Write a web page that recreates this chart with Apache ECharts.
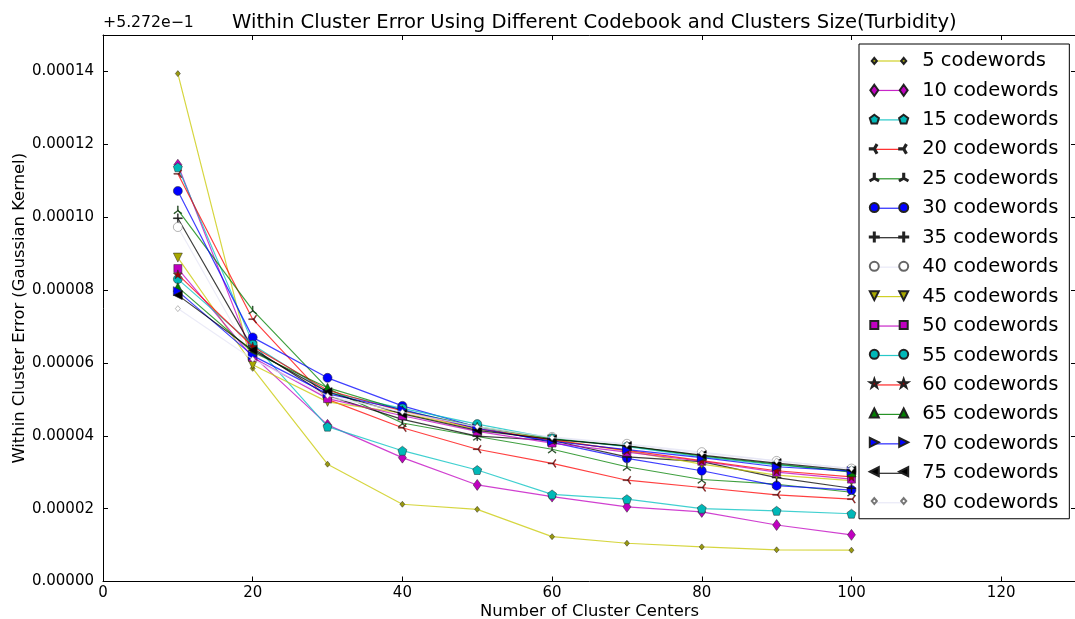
<!DOCTYPE html>
<html><head><meta charset="utf-8">
<script src="https://cdn.jsdelivr.net/npm/echarts@6/dist/echarts.min.js"></script>
<style>html,body{margin:0;padding:0;background:#fff}#c{width:1075px;height:619px}</style>
</head><body><div id="c"></div>
<script>
const clusterCenters = [10, 20, 30, 40, 50, 60, 70, 80, 90, 100];
const cw5  = [13.94e-5, 5.85e-5, 3.22e-5, 2.12e-5, 1.98e-5, 1.23e-5, 1.05e-5, 0.95e-5, 0.87e-5, 0.86e-5];
const cw10 = [11.44e-5, 6.20e-5, 4.30e-5, 3.40e-5, 2.65e-5, 2.33e-5, 2.05e-5, 1.91e-5, 1.55e-5, 1.28e-5];
const cw15 = [11.37e-5, 6.55e-5, 4.25e-5, 3.59e-5, 3.06e-5, 2.39e-5, 2.26e-5, 2.00e-5, 1.94e-5, 1.86e-5];
const cw20 = [11.19e-5, 7.20e-5, 5.00e-5, 4.22e-5, 3.63e-5, 3.24e-5, 2.78e-5, 2.58e-5, 2.38e-5, 2.26e-5];
const cw25 = [10.20e-5, 7.45e-5, 5.30e-5, 4.35e-5, 3.98e-5, 3.63e-5, 3.15e-5, 2.80e-5, 2.67e-5, 2.45e-5];
const cw30 = [10.72e-5, 6.70e-5, 5.59e-5, 4.82e-5, 4.24e-5, 3.82e-5, 3.38e-5, 3.04e-5, 2.63e-5, 2.51e-5];
const cw35 = [9.97e-5, 6.40e-5, 5.10e-5, 4.45e-5, 3.99e-5, 3.87e-5, 3.42e-5, 3.29e-5, 2.85e-5, 2.56e-5];
const cw40 = [9.73e-5, 6.10e-5, 5.05e-5, 4.70e-5, 4.22e-5, 3.97e-5, 3.78e-5, 3.55e-5, 3.31e-5, 3.10e-5];
const cw45 = [8.89e-5, 5.95e-5, 4.93e-5, 4.62e-5, 4.18e-5, 3.90e-5, 3.58e-5, 3.22e-5, 2.92e-5, 2.77e-5];
const cw50 = [8.59e-5, 6.15e-5, 5.02e-5, 4.55e-5, 4.12e-5, 3.80e-5, 3.55e-5, 3.30e-5, 3.00e-5, 2.81e-5];
const cw55 = [8.30e-5, 6.50e-5, 5.20e-5, 4.75e-5, 4.32e-5, 3.93e-5, 3.70e-5, 3.42e-5, 3.20e-5, 3.03e-5];
const cw60 = [8.43e-5, 6.45e-5, 5.25e-5, 4.68e-5, 4.20e-5, 3.88e-5, 3.60e-5, 3.32e-5, 3.04e-5, 2.87e-5];
const cw65 = [8.08e-5, 6.30e-5, 5.32e-5, 4.70e-5, 4.25e-5, 3.92e-5, 3.72e-5, 3.45e-5, 3.22e-5, 3.00e-5];
const cw70 = [7.97e-5, 6.20e-5, 5.15e-5, 4.72e-5, 4.20e-5, 3.85e-5, 3.62e-5, 3.40e-5, 3.15e-5, 3.03e-5];
const cw75 = [7.86e-5, 6.35e-5, 5.20e-5, 4.60e-5, 4.15e-5, 3.90e-5, 3.72e-5, 3.47e-5, 3.25e-5, 3.05e-5];
const cw80 = [7.49e-5, 6.10e-5, 5.10e-5, 4.65e-5, 4.25e-5, 3.95e-5, 3.76e-5, 3.52e-5, 3.31e-5, 3.10e-5];
const seriesNames = ['5 codewords','10 codewords','15 codewords','20 codewords','25 codewords','30 codewords','35 codewords','40 codewords','45 codewords','50 codewords','55 codewords','60 codewords','65 codewords','70 codewords','75 codewords','80 codewords'];
const seriesValues = [cw5, cw10, cw15, cw20, cw25, cw30, cw35, cw40, cw45, cw50, cw55, cw60, cw65, cw70, cw75, cw80];
const xTicks = [0, 20, 40, 60, 80, 100, 120];
const yTicks = [0, 0.00002, 0.00004, 0.00006, 0.00008, 0.0001, 0.00012, 0.00014];
const offsetText = '+5.272e\u22121';

const PENT = 'path://M0,-1 L0.951,-0.309 L0.588,0.809 L-0.588,0.809 L-0.951,-0.309 Z';
const STAR = 'path://M0,-1 L0.225,-0.309 L0.951,-0.309 L0.363,0.118 L0.588,0.809 L0,0.382 L-0.588,0.809 L-0.363,0.118 L-0.951,-0.309 L-0.225,-0.309 Z';
const PLUS = 'path://M-1,-0.09 L1,-0.09 L1,0.09 L-1,0.09 Z M-0.09,-1 L0.09,-1 L0.09,1 L-0.09,1 Z';
const TRI_L = 'path://M0,-0.09 L-1,-0.09 L-1,0.09 L0,0.09 Z M0.08,0.05 L0.58,-0.82 L0.42,-0.91 L-0.08,-0.05 Z M-0.08,0.05 L0.42,0.91 L0.58,0.82 L0.08,-0.05 Z';
const TRI_U = 'path://M-0.09,0 L-0.09,-1 L0.09,-1 L0.09,0 Z M-0.05,0.08 L-0.82,0.58 L-0.91,0.42 L-0.05,-0.08 Z M0.05,0.08 L0.82,0.58 L0.91,0.42 L0.05,-0.08 Z';
const styles = [
  {line:'#c8c800', fill:'#9a9a10', sym:'diamond', size:[5,6], rot:0, lg:'dsmall'},
  {line:'#c000c0', fill:'#c000c0', sym:'diamond', size:[8,11], rot:0, lg:'dthin'},
  {line:'#00c0c0', fill:'#00b8b8', sym:PENT, size:9, rot:0, lg:'pent'},
  {line:'#ff0000', fill:'#ff0000', sym:TRI_L, size:8, rot:0, lg:'trileft'},
  {line:'#008000', fill:'#008000', sym:TRI_U, size:8, rot:0, lg:'triup'},
  {line:'#0000ff', fill:'#0000ff', sym:'circle', size:9, rot:0, lg:'circle'},
  {line:'#000000', fill:'#000000', sym:PLUS, size:9, rot:0, lg:'plus'},
  {line:'#e4e4f4', fill:'#ffffff', sym:'circle', size:9, rot:0, edge:'#666', lg:'circle'},
  {line:'#c8c800', fill:'#a8a800', sym:'triangle', size:9, rot:180, lg:'tdown'},
  {line:'#c000c0', fill:'#c000c0', sym:'rect', size:8, rot:0, lg:'square'},
  {line:'#00c0c0', fill:'#00b8b8', sym:'circle', size:9, rot:0, lg:'circle'},
  {line:'#ff0000', fill:'#a00000', sym:STAR, size:9, rot:0, lg:'star'},
  {line:'#008000', fill:'#008000', sym:'triangle', size:9, rot:0, lg:'tup'},
  {line:'#0000ff', fill:'#0000ff', sym:'triangle', size:9, rot:-90, lg:'tright'},
  {line:'#000000', fill:'#000000', sym:'triangle', size:9, rot:90, lg:'tleft'},
  {line:'#e4e4f4', fill:'#ffffff', sym:'diamond', size:[5,6], rot:0, edge:'#777', lg:'dsmall'}
];

// ---- legend icon paths (two markers joined by a line, like matplotlib) ----
const HALF = 14.7, BW = 19.2, BH = 10;
const PAD = `M${-BW},${-BH} L${-BW},${-BH} M${BW},${BH} L${BW},${BH}`;
function f(n){return n.toFixed(2);}
function poly(pts, cx, r){return 'M' + pts.map(p => f(cx + p[0]*r) + ',' + f(p[1]*r)).join(' L') + ' Z';}
function arm(cx, x2, y2, hw){
  const len = Math.hypot(x2, y2), px = -y2/len*hw, py = x2/len*hw;
  return `M${f(cx+px)},${f(py)} L${f(cx+x2+px)},${f(y2+py)} L${f(cx+x2-px)},${f(y2-py)} L${f(cx-px)},${f(-py)} Z`;
}
function circ(cx, r){return `M${f(cx-r)},0 A${r},${r} 0 1,0 ${f(cx+r)},0 A${r},${r} 0 1,0 ${f(cx-r)},0 Z`;}
function marker(kind, cx){
  switch(kind){
    case 'dsmall': return poly([[0,-1],[0.85,0],[0,1],[-0.85,0]], cx, 3);
    case 'dthin': return poly([[0,-1],[0.72,0],[0,1],[-0.72,0]], cx, 5.5);
    case 'pent': return poly([[0,-1],[0.951,-0.309],[0.588,0.809],[-0.588,0.809],[-0.951,-0.309]], cx, 4.8);
    case 'circle': return circ(cx, 4.5);
    case 'square': return poly([[-1,-1],[1,-1],[1,1],[-1,1]], cx, 4);
    case 'tup': return poly([[0,-1],[1,1],[-1,1]], cx, 4.5);
    case 'tdown': return poly([[0,1],[-1,-1],[1,-1]], cx, 4.5);
    case 'tright': return poly([[1,0],[-1,1],[-1,-1]], cx, 4.5);
    case 'tleft': return poly([[-1,0],[1,-1],[1,1]], cx, 4.5);
    case 'star': return poly([[0,-1],[0.225,-0.309],[0.951,-0.309],[0.363,0.118],[0.588,0.809],[0,0.382],[-0.588,0.809],[-0.363,0.118],[-0.951,-0.309],[-0.225,-0.309]], cx, 4.8);
    case 'plus': return arm(cx, -4.5, 0, 0.5) + ' ' + arm(cx, 4.5, 0, 0.5) + ' ' + arm(cx, 0, -4.5, 0.5) + ' ' + arm(cx, 0, 4.5, 0.5);
    case 'trileft': return arm(cx, -4.5, 0, 0.55) + ' ' + arm(cx, 2.25, -3.9, 0.55) + ' ' + arm(cx, 2.25, 3.9, 0.55);
    case 'triup': return arm(cx, 0, -4.5, 0.55) + ' ' + arm(cx, -3.9, 2.25, 0.55) + ' ' + arm(cx, 3.9, 2.25, 0.55);
  }
}
const LINE_ICON = `path://${PAD} M${-HALF},-0.6 L${HALF},-0.6 L${HALF},0.6 L${-HALF},0.6 Z`;
const markerIcon = kind => `path://${PAD} ${marker(kind, -HALF)} ${marker(kind, HALF)}`;

const series = seriesNames.map((name, i) => {
  const s = styles[i];
  return {
    name: name,
    type: 'line',
    data: clusterCenters.map((x, j) => [x, seriesValues[i][j]]),
    symbol: s.sym,
    symbolSize: s.size,
    symbolRotate: s.rot,
    showAllSymbol: true,
    animation: false,
    lineStyle: {color: s.line, width: 1.2, opacity: 0.75},
    itemStyle: {color: s.fill, borderColor: s.edge || '#222', borderWidth: 0.5, opacity: 1},
    emphasis: {disabled: true},
    z: 2 + i * 0.01
  };
});

const font = 'DejaVu Sans';
const legendCommon = {
  orient: 'vertical', left: 859,
  itemWidth: 2 * BW, itemHeight: 2 * BH,
  selectedMode: false, symbolKeepAspect: true
};
const chart = echarts.init(document.getElementById('c'), null, {renderer: 'canvas'});
chart.setOption({
  backgroundColor: '#fff',
  animation: false,
  textStyle: {fontFamily: font, color: '#000'},
  title: {
    text: 'Within Cluster Error Using Different Codebook and Clusters Size(Turbidity)',
    left: 227, top: 8,
    textStyle: {fontFamily: font, fontSize: 19.6, fontWeight: 'normal', color: '#000'}
  },
  graphic: [{
    type: 'text', left: 103, top: 15,
    style: {text: offsetText, fontFamily: font, fontSize: 15.7, fill: '#000'}
  }],
  legend: [
    Object.assign({}, legendCommon, {
      top: 44, padding: [7, 11, 6, 9.8], itemGap: 9.45,
      backgroundColor: '#fff', borderColor: '#000', borderWidth: 1,
      textStyle: {fontFamily: font, fontSize: 19.5, color: '#000', lineHeight: 20, padding: [0, 0, 0, 10]},
      data: seriesNames.map((n, i) => ({name: n, icon: LINE_ICON,
        itemStyle: {color: styles[i].line, borderWidth: 0, opacity: 0.85}})),
      z: 10
    }),
    Object.assign({}, legendCommon, {
      top: 42.9, padding: [7, 11, 6, 9.8], itemGap: 7.35,
      backgroundColor: 'transparent', borderWidth: 0,
      formatter: () => '',
      textStyle: {fontFamily: font, fontSize: 8, lineHeight: 8},
      data: seriesNames.map((n, i) => ({name: n, icon: markerIcon(styles[i].lg)})),
      z: 11
    })
  ],
  grid: {left: 103, top: 35, width: 973, height: 546.5, containLabel: false, outerBoundsMode: 'none', show: false},
  xAxis: [{
    type: 'value', min: 0, max: 130, interval: 20,
    name: 'Number of Cluster Centers', nameLocation: 'middle', nameGap: 22, nameMoveOverlap: false,
    nameTextStyle: {fontFamily: font, fontSize: 16.4, color: '#000'},
    axisLine: {show: true, onZero: false, lineStyle: {color: '#000', width: 1}},
    axisTick: {show: true, inside: true, length: 5, lineStyle: {color: '#000'}},
    axisLabel: {fontFamily: font, fontSize: 15, color: '#000', margin: 4, showMaxLabel: false,
      formatter: v => xTicks.includes(v) ? String(v) : ''},
    splitLine: {show: false}
  }, {
    type: 'value', min: 0, max: 130, interval: 20, position: 'top',
    axisLine: {show: true, onZero: false, lineStyle: {color: '#000', width: 1}},
    axisTick: {show: true, inside: true, length: 5, lineStyle: {color: '#000'}},
    axisLabel: {show: false}, splitLine: {show: false}
  }],
  yAxis: [{
    type: 'value', min: 0, max: 0.00015, interval: 0.00002,
    name: 'Within Cluster Error (Gaussian Kernel)', nameLocation: 'middle', nameGap: 75, nameMoveOverlap: false,
    nameTextStyle: {fontFamily: font, fontSize: 16.4, color: '#000'},
    axisLine: {show: true, onZero: false, lineStyle: {color: '#000', width: 1}},
    axisTick: {show: true, inside: true, length: 5, lineStyle: {color: '#000'}},
    axisLabel: {fontFamily: font, fontSize: 15, color: '#000', margin: 9, showMaxLabel: false,
      formatter: v => yTicks.some(t => Math.abs(t - v) < 1e-9) ? v.toFixed(5) : ''},
    splitLine: {show: false}
  }, {
    type: 'value', min: 0, max: 0.00015, interval: 0.00002, position: 'right',
    axisLine: {show: true, onZero: false, lineStyle: {color: '#000', width: 1}},
    axisTick: {show: true, inside: true, length: 5, lineStyle: {color: '#000'}},
    axisLabel: {show: false}, splitLine: {show: false}
  }],
  series: series
});
</script></body></html>
